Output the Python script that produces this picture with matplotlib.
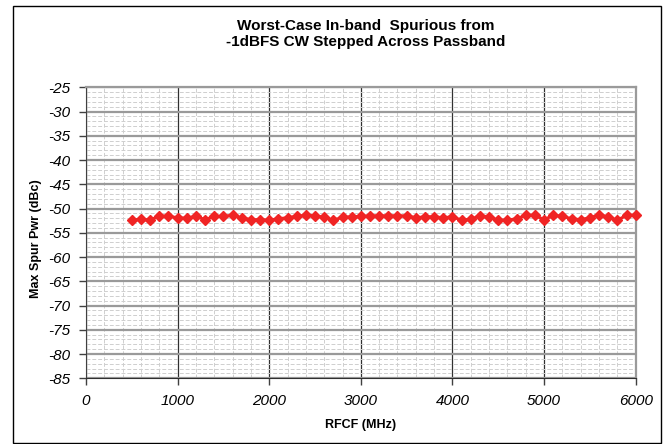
import numpy as np
import matplotlib
matplotlib.use('Agg')
import matplotlib.pyplot as plt
from matplotlib.ticker import MultipleLocator
from matplotlib.patches import Rectangle

plt.rcParams['font.family'] = ['Liberation Sans', 'DejaVu Sans']
plt.rcParams['axes.unicode_minus'] = False

# RF center frequency (MHz) and worst-case spur (dBc)
freq_mhz = [500, 600, 700, 800, 900, 1000, 1100, 1200, 1300, 1400,
            1500, 1600, 1700, 1800, 1900, 2000, 2100, 2200, 2300, 2400,
            2500, 2600, 2700, 2800, 2900, 3000, 3100, 3200, 3300, 3400,
            3500, 3600, 3700, 3800, 3900, 4000, 4100, 4200, 4300, 4400,
            4500, 4600, 4700, 4800, 4900, 5000, 5100, 5200, 5300, 5400,
            5500, 5600, 5700, 5800, 5900, 6000]
spur_dbc = [-52.4, -52.2, -52.4, -51.5, -51.6, -51.9, -52.0, -51.6, -52.3, -51.6,
            -51.6, -51.4, -51.9, -52.3, -52.3, -52.4, -52.1, -51.9, -51.6, -51.4,
            -51.5, -51.8, -52.4, -51.8, -51.7, -51.6, -51.5, -51.5, -51.5, -51.5,
            -51.5, -51.9, -51.7, -51.7, -51.9, -51.7, -52.4, -52.2, -51.5, -51.7,
            -52.4, -52.4, -52.1, -51.4, -51.4, -52.3, -51.4, -51.6, -52.1, -52.3,
            -51.9, -51.3, -51.7, -52.4, -51.4, -51.4]

x_ticks = [0, 1000, 2000, 3000, 4000, 5000, 6000]
y_ticks = [-85, -80, -75, -70, -65, -60, -55, -50, -45, -40, -35, -30, -25]

fig = plt.figure(figsize=(6.68, 4.44), dpi=100)
fig.patches.append(Rectangle((13/668, 1/444), 648/668, 437/444, transform=fig.transFigure,
                             fill=False, edgecolor='black', lw=1.0))

ax = fig.add_axes([86/668, 1 - 378.3/444, 549.7/668, 291/444])

ax.set_xlim(0, 6000)
ax.set_ylim(-85, -25)
ax.set_xticks(x_ticks)
ax.set_yticks(y_ticks)
ax.xaxis.set_minor_locator(MultipleLocator(200))
ax.yaxis.set_minor_locator(MultipleLocator(1))

# Excel-style gridlines
ax.grid(which='minor', color='#cfcfcf', linestyle=(0, (4, 2)), lw=0.7)
ax.yaxis.grid(which='major', color='#9a9a9a', linestyle='-', lw=1.6)
ax.xaxis.grid(which='major', color='#303030', linestyle='-', lw=0.9)
ax.set_axisbelow(True)

ax.tick_params(which='minor', length=0)
ax.tick_params(which='major', direction='out', length=5, width=1, color='#404040',
               labelsize=11, pad=6)
for lab in ax.get_xticklabels() + ax.get_yticklabels():
    lab.set_fontstyle('italic')

ax.spines['left'].set_color('#404040')
ax.spines['bottom'].set_color('#303030')
ax.spines['top'].set_color('#9a9a9a')
ax.spines['right'].set_color('#9a9a9a')
ax.spines['top'].set_linewidth(1.6)
ax.spines['right'].set_linewidth(1.6)

ax.plot(freq_mhz, spur_dbc, color='#f02424', lw=2.2, marker='D', markersize=5.6,
        markeredgecolor='#f02424', clip_on=False, zorder=5)

ax.set_xlabel('RFCF (MHz)', fontsize=9, fontweight='bold', labelpad=8)
ax.set_ylabel('Max Spur Pwr (dBc)', fontsize=9, fontweight='bold')
ax.yaxis.set_label_coords(-0.080, 0.48)

fig.text(366/668, 1 - 34/444, 'Worst-Case In-band  Spurious from\n-1dBFS CW Stepped Across Passband',
         ha='center', va='center', fontsize=11, fontweight='bold', linespacing=1.1)

fig.savefig('out.png', dpi=100)
